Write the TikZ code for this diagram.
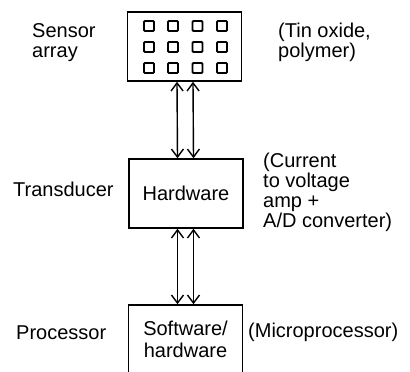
\documentclass[tikz,border=0pt]{standalone}
\usepackage{fontspec}
\setmainfont{Liberation Sans}
\usetikzlibrary{arrows.meta}
\begin{document}
\begin{tikzpicture}[x=1pt,y=-1pt,
  lbl/.style={inner sep=0pt,align=left,font=\fontsize{20}{20}\selectfont},
  blk/.style={draw,line width=1.6pt,minimum width=114pt,minimum height=69pt,inner sep=0pt,align=center,font=\fontsize{20}{22}\selectfont},
  cell/.style={draw,line width=1.9pt,rounded corners=1pt,minimum size=10pt,inner sep=0pt},
  link/.style={line width=1.4pt,{Straight Barb[length=8pt,width=12pt]}-{Straight Barb[length=8pt,width=12pt]}}]
\useasboundingbox (0,0) rectangle (410,372);
\clip (0,0) rectangle (410,372);
% boxes
\node[blk] (sens) at (184.5,46.5) {};
\node[blk] (hw) at (186,193.5) {Hardware};
\node[blk] (proc) at (185.5,339.5) {Software/\\hardware};
% sensor cells
\foreach \r/\yy in {1/26,2/47,3/68}{
  \foreach \c/\xx in {1/149,2/173,3/197.5,4/222}{
    \node[cell] (c\r\c) at (\xx,\yy) {};
  }
}
% labels (base = baseline of last line)
\node[lbl,anchor=base west] (lsens) at (32,57) {Sensor\\array};
\node[lbl,anchor=base west] (rsens) at (278,57) {(Tin oxide,\\polymer)};
\node[lbl,anchor=base west] (ltr) at (13,196) {Transducer};
\node[lbl,anchor=base west] (rtr) at (263,227) {(Current\\to voltage\\amp +\\A/D converter)};
\node[lbl,anchor=base west] (lproc) at (16,339) {Processor};
\node[lbl,anchor=base west] (rproc) at (248,337) {(Microprocessor)};
% connectors
\draw[link] ([xshift=-7.5pt]sens.south) -- ([xshift=-8.5pt]hw.north);
\draw[link] ([xshift=8.5pt]sens.south) -- ([xshift=7.5pt]hw.north);
\draw[link] ([xshift=-8.5pt]hw.south) -- ([xshift=-8pt]proc.north);
\draw[link] ([xshift=7.5pt]hw.south) -- ([xshift=8pt]proc.north);
\end{tikzpicture}
\end{document}
